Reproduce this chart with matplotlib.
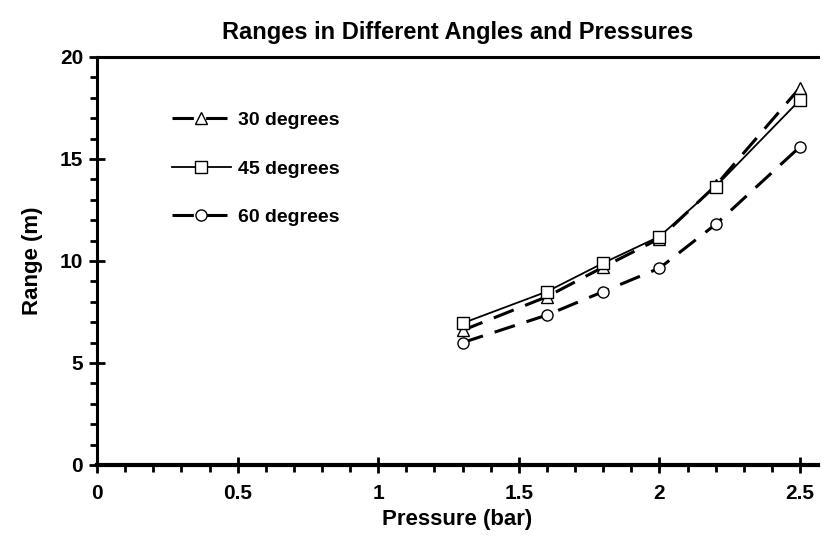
import matplotlib
matplotlib.use("Agg")
import matplotlib.pyplot as plt
from matplotlib.ticker import MultipleLocator

plt.rcParams['font.family'] = ['Liberation Sans', 'DejaVu Sans']
plt.rcParams['font.weight'] = 'bold'

pressure = [1.3, 1.6, 1.8, 2.0, 2.2, 2.5]
range_30 = [6.6, 8.25, 9.7, 11.1, 13.7, 18.5]
range_45 = [6.95, 8.5, 9.9, 11.2, 13.65, 17.9]
range_60 = [6.0, 7.35, 8.5, 9.65, 11.8, 15.6]
labels = ["30 degrees", "45 degrees", "60 degrees"]

fig = plt.figure(figsize=(8.25, 5.39), dpi=100)
ax = fig.add_axes([0.1176, 0.1373, 0.874, 0.757])

ax.plot(pressure, range_30, color="black", lw=2.2, dashes=(7, 4),
        marker="^", ms=8, mfc="white", mec="black", mew=1.0, label=labels[0])
ax.plot(pressure, range_45, color="black", lw=1.3,
        marker="s", ms=8, mfc="white", mec="black", mew=1.0, label=labels[1])
ax.plot(pressure, range_60, color="black", lw=2.2, dashes=(7, 4),
        marker="o", ms=8, mfc="white", mec="black", mew=1.0, label=labels[2])

ax.set_xlim(0, 2.564)
ax.set_ylim(0, 20)

ax.spines['right'].set_visible(False)
ax.spines['top'].set_linewidth(2.2)
ax.spines['left'].set_linewidth(2.2)
ax.spines['bottom'].set_linewidth(3)

ax.xaxis.set_major_locator(MultipleLocator(0.5))
ax.xaxis.set_minor_locator(MultipleLocator(0.1))
ax.yaxis.set_major_locator(MultipleLocator(5))
ax.yaxis.set_minor_locator(MultipleLocator(1))
ax.set_xticks([0, 0.5, 1, 1.5, 2, 2.5])
ax.set_xticklabels(["0", "0.5", "1", "1.5", "2", "2.5"])

ax.tick_params(axis="both", which="major", direction="inout", length=12,
               width=2, labelsize=15, top=False, right=False)
ax.tick_params(axis="x", which="major", pad=8)
ax.tick_params(axis="y", which="major", pad=4)
ax.tick_params(axis="both", which="minor", direction="out", length=5,
               width=2, top=False, right=False)

ax.set_title("Ranges in Different Angles and Pressures", fontsize=17,
             fontweight="bold", pad=13)
ax.set_xlabel("Pressure (bar)", fontsize=16, fontweight="bold", labelpad=4)
ax.set_ylabel("Range (m)", fontsize=16, fontweight="bold", labelpad=12)

leg = ax.legend(loc="upper left", bbox_to_anchor=(0.08, 0.91), frameon=False,
                fontsize=14, handlelength=3.0, handletextpad=0.4,
                labelspacing=1.6, numpoints=1)

fig.savefig("out.png", dpi=100)
